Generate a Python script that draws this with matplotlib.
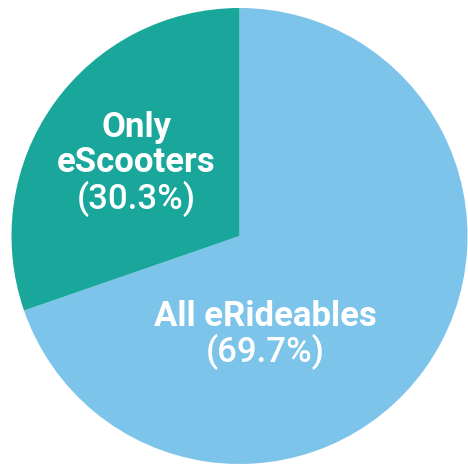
import matplotlib
matplotlib.use("Agg")
import matplotlib.pyplot as plt

# ── Data ──────────────────────────────────────────────────────────────
labels = ['All eRideables', 'Only eScooters']
shares = [69.7, 30.3]
colors = ['#7DC4EA', '#18A79A']

# ── Figure: pie fills almost the whole canvas ────────────────────────
W = 468
CX, CY, R = 239.5, 236, 228          # pixel centre / radius of the pie
fig = plt.figure(figsize=(4.68, 4.68), dpi=100)
ax = fig.add_axes([(CX - R) / W, (W - CY - R) / W, 2 * R / W, 2 * R / W])

ax.pie(shares, colors=colors, startangle=90, counterclock=False,
       wedgeprops=dict(linewidth=0))
ax.set_xlim(-1, 1)
ax.set_ylim(-1, 1)
ax.set_aspect('equal')
ax.axis('off')

FONT = 'Roboto'
FS = 25
DY = 36 / R        # line step in data units

# Only eScooters (two bold lines + lighter percent)
x0, y0 = -0.452, (CY - 127) / R
ax.text(x0, y0, 'Only', ha='center', va='center', fontsize=FS,
        fontweight='bold', color='white', family=FONT)
ax.text(x0, y0 - DY, 'eScooters', ha='center', va='center', fontsize=FS,
        fontweight='bold', color='white', family=FONT)
ax.text(x0, y0 - 2 * DY, f'({shares[1]}%)', ha='center', va='center',
        fontsize=FS, fontweight='medium', color='white', family=FONT)

# All eRideables
x1, y1 = 0.115, (CY - 316) / R
ax.text(x1, y1, labels[0], ha='center', va='center', fontsize=FS,
        fontweight='bold', color='white', family=FONT)
ax.text(x1, y1 - DY, f'({shares[0]}%)', ha='center', va='center',
        fontsize=FS, fontweight='medium', color='white', family=FONT)

fig.savefig('out.png', dpi=100, facecolor='white')
